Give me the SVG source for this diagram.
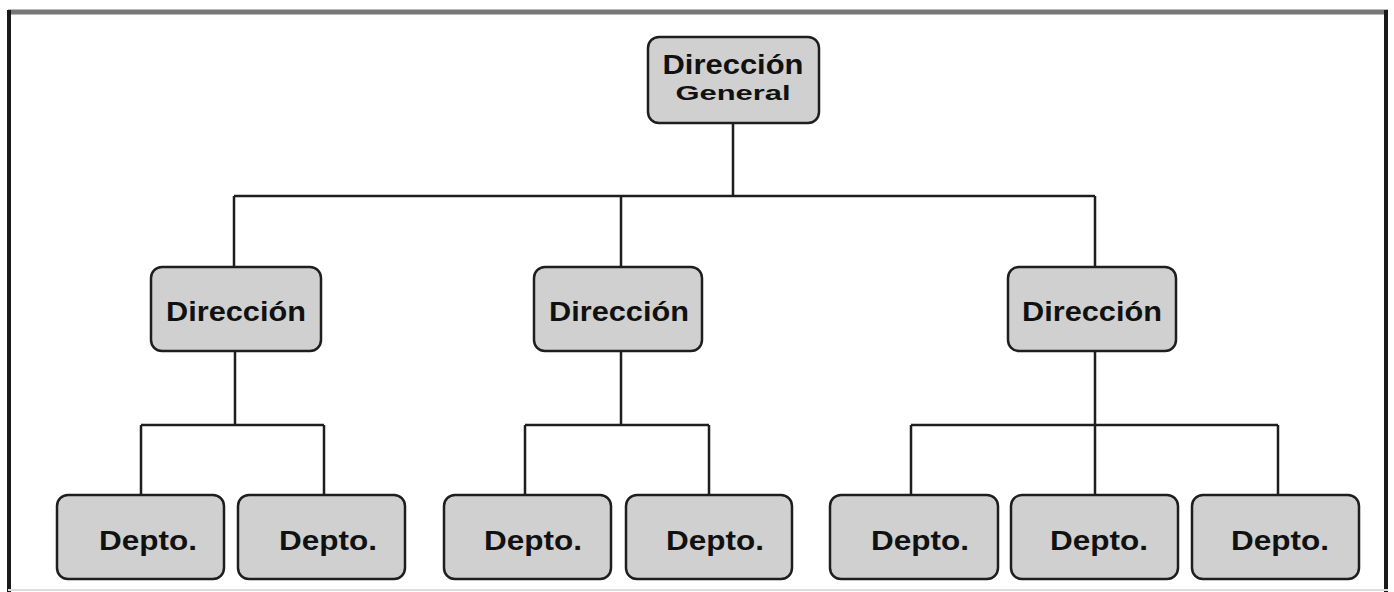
<svg xmlns="http://www.w3.org/2000/svg" width="1394" height="592" viewBox="0 0 1394 592">
<style>
.box{fill:#d0d0d0;stroke:#1e1e1e;stroke-width:2.5}
.ln{fill:none;stroke:#1e1e1e;stroke-width:2.5}
.t{font-family:"Liberation Sans",Arial,sans-serif;font-weight:bold;fill:#111;text-anchor:middle}
.big{font-size:28px}
.sm{font-size:21px}
</style>
<rect width="1394" height="592" fill="#fff"/>
<g id="frame">
<line x1="8" y1="12" x2="1388" y2="12" stroke="#777" stroke-width="5"/>
<line x1="9" y1="10" x2="9" y2="592" stroke="#1a1a1a" stroke-width="4"/>
<line x1="1386" y1="10" x2="1386" y2="592" stroke="#1a1a1a" stroke-width="4"/>
<line x1="8" y1="590" x2="1388" y2="590" stroke="#ddd" stroke-width="2"/>
</g>
<g id="connectors">
<path class="ln" d="M733 123V196M234 196H1095M234 196V266M621 196V266M1095 196V266"/>
<path class="ln" d="M235 351V425M141 425H324M141 425V494M324 425V494"/>
<path class="ln" d="M621 351V425M525 425H709M525 425V494M709 425V494"/>
<path class="ln" d="M1095 351V494M911 425H1278M911 425V494M1278 425V494"/>
</g>
<g id="n-general"><rect class="box" x="648" y="37" width="171" height="86" rx="11"/>
<text class="t big" x="733" y="74" textLength="141" lengthAdjust="spacingAndGlyphs">Dirección</text>
<text class="t sm" x="733" y="100" textLength="115" lengthAdjust="spacingAndGlyphs">General</text></g>
<g id="n-dir1"><rect class="box" x="151" y="267" width="170" height="84" rx="11"/>
<text class="t big" x="236" y="321" textLength="140" lengthAdjust="spacingAndGlyphs">Dirección</text></g>
<g id="n-dir2"><rect class="box" x="534" y="267" width="168" height="84" rx="11"/>
<text class="t big" x="619" y="321" textLength="140" lengthAdjust="spacingAndGlyphs">Dirección</text></g>
<g id="n-dir3"><rect class="box" x="1008" y="267" width="168" height="84" rx="11"/>
<text class="t big" x="1092" y="321" textLength="140" lengthAdjust="spacingAndGlyphs">Dirección</text></g>
<g id="n-d1"><rect class="box" x="57" y="495" width="167" height="84" rx="11"/><text class="t big" x="148" y="550" textLength="98" lengthAdjust="spacingAndGlyphs">Depto.</text></g>
<g id="n-d2"><rect class="box" x="238" y="495" width="167" height="84" rx="11"/><text class="t big" x="328" y="550" textLength="98" lengthAdjust="spacingAndGlyphs">Depto.</text></g>
<g id="n-d3"><rect class="box" x="444" y="495" width="167" height="84" rx="11"/><text class="t big" x="533" y="550" textLength="98" lengthAdjust="spacingAndGlyphs">Depto.</text></g>
<g id="n-d4"><rect class="box" x="626" y="495" width="166" height="84" rx="11"/><text class="t big" x="715" y="550" textLength="98" lengthAdjust="spacingAndGlyphs">Depto.</text></g>
<g id="n-d5"><rect class="box" x="830" y="495" width="168" height="84" rx="11"/><text class="t big" x="920" y="550" textLength="98" lengthAdjust="spacingAndGlyphs">Depto.</text></g>
<g id="n-d6"><rect class="box" x="1011" y="495" width="167" height="84" rx="11"/><text class="t big" x="1099" y="550" textLength="98" lengthAdjust="spacingAndGlyphs">Depto.</text></g>
<g id="n-d7"><rect class="box" x="1192" y="495" width="167" height="84" rx="11"/><text class="t big" x="1280" y="550" textLength="98" lengthAdjust="spacingAndGlyphs">Depto.</text></g>
</svg>
